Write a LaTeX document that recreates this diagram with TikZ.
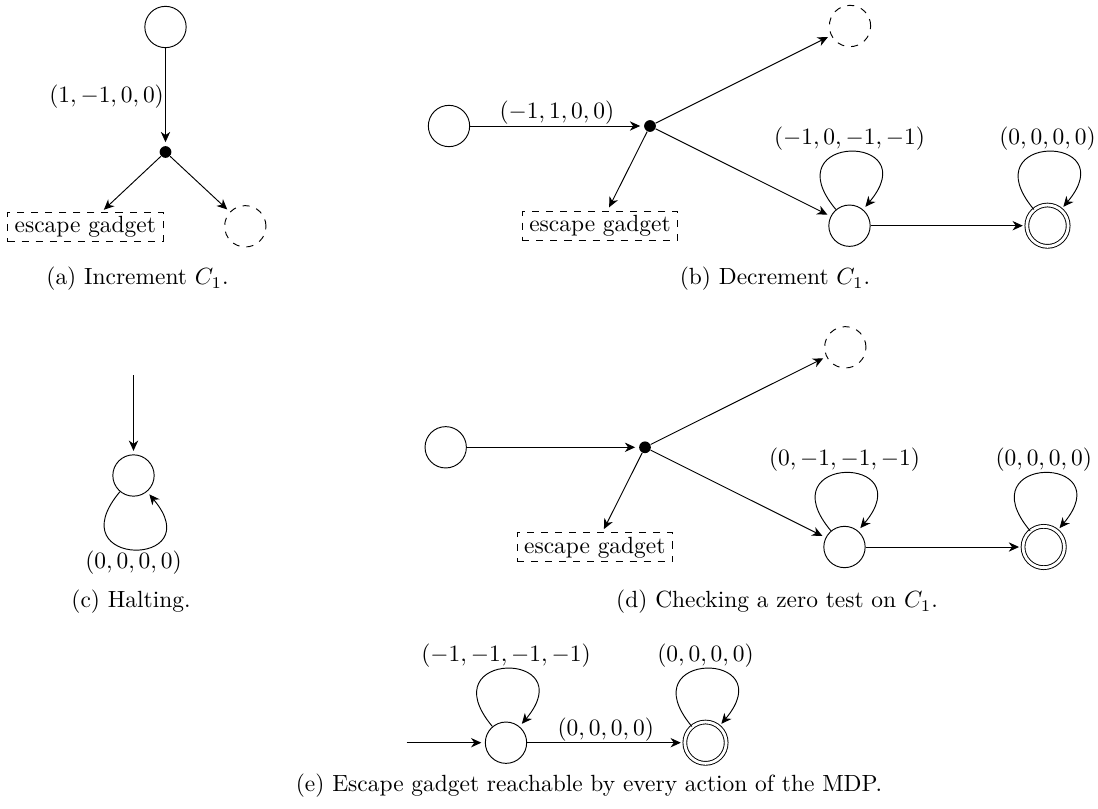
\documentclass[tikz,border=0pt]{standalone}
\usepackage{amsmath}
\usepackage{tikz}
\usetikzlibrary{arrows.meta,shapes,positioning}

\begin{document}
\begin{tikzpicture}[x=0.015cm,y=-0.015cm,>={Stealth[length=4.4pt,width=4pt,inset=1.4pt]},
  state/.style={circle,draw,minimum size=6.2mm,inner sep=0pt},
  lost/.style={state,dashed},
  acc/.style={state,double,double distance=1.2pt},
  choice/.style={circle,fill,inner sep=0pt,minimum size=5pt},
  gadget/.style={draw,dashed,inner xsep=3pt,inner ysep=1.7pt},
  arr/.style={->,shorten >=1.5pt},
  lbl/.style={inner sep=0.5pt},
  selfloop/.style={arr,min distance=1.5cm}]
\useasboundingbox (0,0) rectangle (1098,809);

\node[state] (a0) at (165.5,27) {};
\node[choice] (a1) at (165.5,152) {};
\node[gadget] (ag) at (85.3,227.2) {escape gadget};
\node[lost] (a2) at (245.3,226.3) {};
\draw[arr] (a0) -- node[left,lbl] {$(1,-1,0,0)$} (a1);
\draw[arr] (a1) -- (ag);
\draw[arr] (a1) -- (a2);
\node (capa) at (137.5,279) {(a) Increment $C_1$.};

\node[state] (b0) at (449,126) {};
\node[choice] (b1) at (650,126) {};
\node[lost] (b2) at (850,26) {};
\node[gadget] (bg) at (600,225.5) {escape gadget};
\node[state] (b3) at (849.5,225.7) {};
\node[acc] (b4) at (1047.5,225.7) {};
\draw[arr] (b0) -- node[above,lbl] {$(-1,1,0,0)$} (b1);
\draw[arr] (b1) -- (b2);
\draw[arr] (b1) -- (bg);
\draw[arr] (b1) -- (b3);
\draw[arr] (b3) -- (b4);
\draw[selfloop] (b3) to[out=130,in=50] node[above,lbl] {$(-1,0,-1,-1)$} (b3);
\draw[selfloop] (b4) to[out=130,in=50] node[above,lbl] {$(0,0,0,0)$} (b4);
\node (capb) at (775,279) {(b) Decrement $C_1$.};

\coordinate (c0) at (133.5,375);
\node[state] (c1) at (133.5,475.5) {};
\draw[arr] (c0) -- (c1);
\draw[selfloop] (c1) to[out=-130,in=-50] node[below,lbl] {$(0,0,0,0)$} (c1);
\node (capc) at (131,601.8) {(c) Halting.};

\node[state] (d0) at (445.7,447.3) {};
\node[choice] (d1) at (645,447.3) {};
\node[lost] (d2) at (845.3,347.3) {};
\node[gadget] (dg) at (594.8,547.3) {escape gadget};
\node[state] (d3) at (844.5,547) {};
\node[acc] (d4) at (1043.7,547) {};
\draw[arr] (d0) -- (d1);
\draw[arr] (d1) -- (d2);
\draw[arr] (d1) -- (dg);
\draw[arr] (d1) -- (d3);
\draw[arr] (d3) -- (d4);
\draw[selfloop] (d3) to[out=130,in=50] node[above,lbl] {$(0,-1,-1,-1)$} (d3);
\draw[selfloop] (d4) to[out=130,in=50] node[above,lbl] {$(0,0,0,0)$} (d4);
\node (capd) at (777,601.8) {(d) Checking a zero test on $C_1$.};

\coordinate (e0) at (406.7,742.7);
\node[state] (e1) at (506,742.7) {};
\node[acc] (e2) at (705.5,742.7) {};
\draw[arr] (e0) -- (e1);
\draw[arr] (e1) -- node[above,lbl] {$(0,0,0,0)$} (e2);
\draw[selfloop] (e1) to[out=130,in=50] node[above,lbl] {$(-1,-1,-1,-1)$} (e1);
\draw[selfloop] (e2) to[out=130,in=50] node[above,lbl] {$(0,0,0,0)$} (e2);
\node (cape) at (589,786) {(e) Escape gadget reachable by every action of the MDP.};
\end{tikzpicture}
\end{document}
